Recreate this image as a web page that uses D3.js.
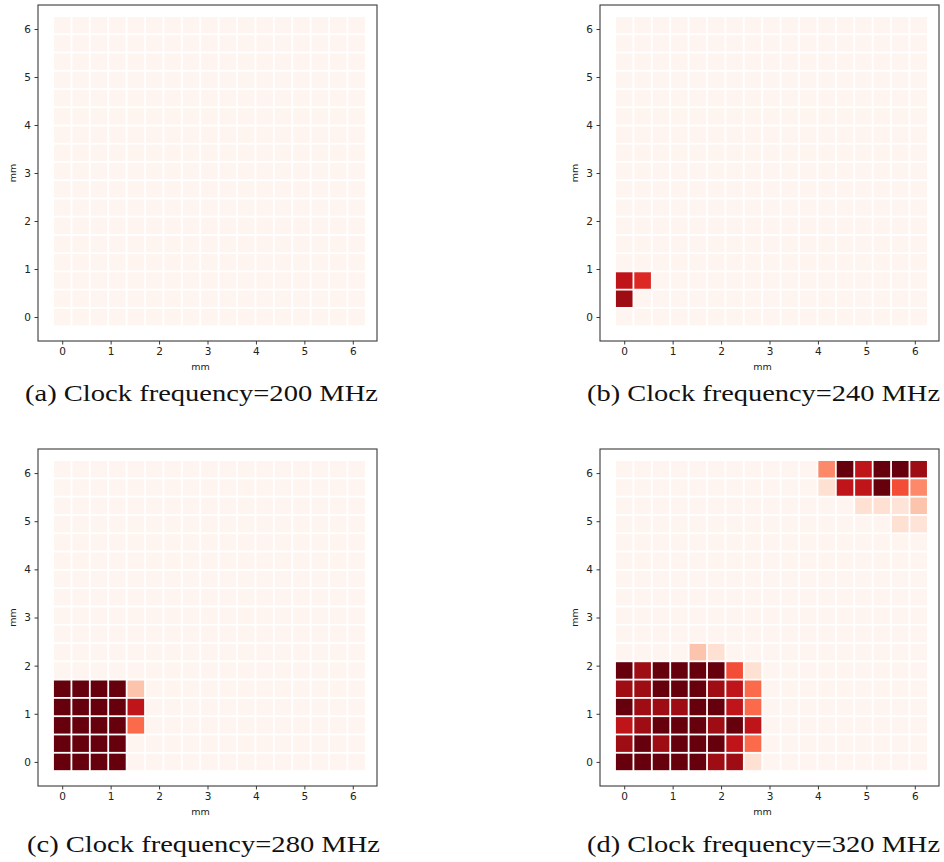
<!DOCTYPE html>
<html>
<head>
<meta charset="utf-8">
<script src="https://cdn.jsdelivr.net/npm/d3@7"></script>
<style>
  html, body { margin: 0; padding: 0; background: #fff; }
  svg { display: block; }
</style>
</head>
<body>
<svg id="fig" width="944" height="862"></svg>
<script>
// Grid cell centres along each die axis (mm)
const cellPositions = [0, 0.38, 0.76, 1.14, 1.52, 1.9, 2.28, 2.66, 3.04, 3.42, 3.8, 4.18, 4.56, 4.94, 5.32, 5.7, 6.08];
const cellPitch = 0.38;
const xTicks = [0, 1, 2, 3, 4, 5, 6];
const yTicks = [0, 1, 2, 3, 4, 5, 6];
const clockFrequencies = [200, 240, 280, 320];
const panelLetters = ["a", "b", "c", "d"];

// Normalised heat per cell; first row is the top of the die (y = 6.08 mm)
const heat200 = [
  [0,0,0,0,0,0,0,0,0,0,0,0,0,0,0,0,0],
  [0,0,0,0,0,0,0,0,0,0,0,0,0,0,0,0,0],
  [0,0,0,0,0,0,0,0,0,0,0,0,0,0,0,0,0],
  [0,0,0,0,0,0,0,0,0,0,0,0,0,0,0,0,0],
  [0,0,0,0,0,0,0,0,0,0,0,0,0,0,0,0,0],
  [0,0,0,0,0,0,0,0,0,0,0,0,0,0,0,0,0],
  [0,0,0,0,0,0,0,0,0,0,0,0,0,0,0,0,0],
  [0,0,0,0,0,0,0,0,0,0,0,0,0,0,0,0,0],
  [0,0,0,0,0,0,0,0,0,0,0,0,0,0,0,0,0],
  [0,0,0,0,0,0,0,0,0,0,0,0,0,0,0,0,0],
  [0,0,0,0,0,0,0,0,0,0,0,0,0,0,0,0,0],
  [0,0,0,0,0,0,0,0,0,0,0,0,0,0,0,0,0],
  [0,0,0,0,0,0,0,0,0,0,0,0,0,0,0,0,0],
  [0,0,0,0,0,0,0,0,0,0,0,0,0,0,0,0,0],
  [0,0,0,0,0,0,0,0,0,0,0,0,0,0,0,0,0],
  [0,0,0,0,0,0,0,0,0,0,0,0,0,0,0,0,0],
  [0,0,0,0,0,0,0,0,0,0,0,0,0,0,0,0,0]
];
const heat240 = [
  [0,0,0,0,0,0,0,0,0,0,0,0,0,0,0,0,0],
  [0,0,0,0,0,0,0,0,0,0,0,0,0,0,0,0,0],
  [0,0,0,0,0,0,0,0,0,0,0,0,0,0,0,0,0],
  [0,0,0,0,0,0,0,0,0,0,0,0,0,0,0,0,0],
  [0,0,0,0,0,0,0,0,0,0,0,0,0,0,0,0,0],
  [0,0,0,0,0,0,0,0,0,0,0,0,0,0,0,0,0],
  [0,0,0,0,0,0,0,0,0,0,0,0,0,0,0,0,0],
  [0,0,0,0,0,0,0,0,0,0,0,0,0,0,0,0,0],
  [0,0,0,0,0,0,0,0,0,0,0,0,0,0,0,0,0],
  [0,0,0,0,0,0,0,0,0,0,0,0,0,0,0,0,0],
  [0,0,0,0,0,0,0,0,0,0,0,0,0,0,0,0,0],
  [0,0,0,0,0,0,0,0,0,0,0,0,0,0,0,0,0],
  [0,0,0,0,0,0,0,0,0,0,0,0,0,0,0,0,0],
  [0,0,0,0,0,0,0,0,0,0,0,0,0,0,0,0,0],
  [0.79,0.69,0,0,0,0,0,0,0,0,0,0,0,0,0,0,0],
  [0.89,0,0,0,0,0,0,0,0,0,0,0,0,0,0,0,0],
  [0,0,0,0,0,0,0,0,0,0,0,0,0,0,0,0,0]
];
const heat280 = [
  [0,0,0,0,0,0,0,0,0,0,0,0,0,0,0,0,0],
  [0,0,0,0,0,0,0,0,0,0,0,0,0,0,0,0,0],
  [0,0,0,0,0,0,0,0,0,0,0,0,0,0,0,0,0],
  [0,0,0,0,0,0,0,0,0,0,0,0,0,0,0,0,0],
  [0,0,0,0,0,0,0,0,0,0,0,0,0,0,0,0,0],
  [0,0,0,0,0,0,0,0,0,0,0,0,0,0,0,0,0],
  [0,0,0,0,0,0,0,0,0,0,0,0,0,0,0,0,0],
  [0,0,0,0,0,0,0,0,0,0,0,0,0,0,0,0,0],
  [0,0,0,0,0,0,0,0,0,0,0,0,0,0,0,0,0],
  [0,0,0,0,0,0,0,0,0,0,0,0,0,0,0,0,0],
  [0,0,0,0,0,0,0,0,0,0,0,0,0,0,0,0,0],
  [0,0,0,0,0,0,0,0,0,0,0,0,0,0,0,0,0],
  [1,1,1,1,0.22,0,0,0,0,0,0,0,0,0,0,0,0],
  [1,1,1,1,0.79,0,0,0,0,0,0,0,0,0,0,0,0],
  [1,1,1,1,0.5,0,0,0,0,0,0,0,0,0,0,0,0],
  [1,1,1,1,0,0,0,0,0,0,0,0,0,0,0,0,0],
  [1,1,1,1,0,0,0,0,0,0,0,0,0,0,0,0,0]
];
const heat320 = [
  [0,0,0,0,0,0,0,0,0,0,0,0.4,1,0.79,1,1,0.89],
  [0,0,0,0,0,0,0,0,0,0,0,0.12,0.79,0.79,1,0.58,0.4],
  [0,0,0,0,0,0,0,0,0,0,0,0,0,0.12,0.12,0.1,0.22],
  [0,0,0,0,0,0,0,0,0,0,0,0,0,0,0,0.12,0.1],
  [0,0,0,0,0,0,0,0,0,0,0,0,0,0,0,0,0],
  [0,0,0,0,0,0,0,0,0,0,0,0,0,0,0,0,0],
  [0,0,0,0,0,0,0,0,0,0,0,0,0,0,0,0,0],
  [0,0,0,0,0,0,0,0,0,0,0,0,0,0,0,0,0],
  [0,0,0,0,0,0,0,0,0,0,0,0,0,0,0,0,0],
  [0,0,0,0,0,0,0,0,0,0,0,0,0,0,0,0,0],
  [0,0,0,0,0.22,0.12,0,0,0,0,0,0,0,0,0,0,0],
  [1,0.89,1,1,1,1,0.58,0.12,0,0,0,0,0,0,0,0,0],
  [0.89,0.89,1,1,1,0.89,0.79,0.5,0,0,0,0,0,0,0,0,0],
  [1,0.89,0.89,0.89,1,1,0.79,0.5,0,0,0,0,0,0,0,0,0],
  [0.79,0.89,1,1,1,0.89,1,0.79,0,0,0,0,0,0,0,0,0],
  [0.89,1,0.89,1,1,1,0.79,0.5,0,0,0,0,0,0,0,0,0],
  [1,1,1,1,1,0.89,0.89,0.12,0,0,0,0,0,0,0,0,0]
];
const heatMaps = [heat200, heat240, heat280, heat320];

// Sequential red colour ramp (ColorBrewer Reds, 9 classes)
const redStops = ["#fff5f0","#fee0d2","#fcbba1","#fc9272","#fb6a4a","#ef3b2c","#cb181d","#a50f15","#67000d"];
const color = d3.scaleLinear()
  .domain(redStops.map((_, i) => i / (redStops.length - 1)))
  .range(redStops)
  .interpolate(d3.interpolateRgb)
  .clamp(true);

// Axes rectangles for the 2x2 layout
const panelBoxes = [
  { left: 38,  top: 5,   width: 339, height: 336 },
  { left: 600, top: 5,   width: 339, height: 336 },
  { left: 38,  top: 449, width: 339, height: 337 },
  { left: 600, top: 449, width: 339, height: 337 }
];
const captionPos = [
  { x: 25,  y: 401 },
  { x: 587, y: 401 },
  { x: 27,  y: 852 },
  { x: 587, y: 852 }
];

const svg = d3.select("#fig");
const axisColor = "#3a3a3a";
const gapPx = 1.8;

panelBoxes.forEach((box, p) => {
  const x = d3.scaleLinear().domain([-0.5, 6.5]).range([box.left, box.left + box.width]);
  const y = d3.scaleLinear().domain([-0.5, 6.5]).range([box.top + box.height, box.top]);
  const g = svg.append("g");

  const grid = heatMaps[p];
  const nRows = grid.length;
  const cells = [];
  grid.forEach((row, k) => {
    row.forEach((v, c) => {
      cells.push({ cx: cellPositions[c], cy: cellPositions[nRows - 1 - k], v });
    });
  });

  const cw = x(cellPitch) - x(0);
  const ch = y(0) - y(cellPitch);
  g.append("g").selectAll("rect")
    .data(cells)
    .join("rect")
    .attr("x", d => x(d.cx - cellPitch / 2) + gapPx / 2)
    .attr("y", d => y(d.cy + cellPitch / 2) + gapPx / 2)
    .attr("width", cw - gapPx)
    .attr("height", ch - gapPx)
    .attr("fill", d => color(d.v));

  // frame
  g.append("rect")
    .attr("x", box.left).attr("y", box.top)
    .attr("width", box.width).attr("height", box.height)
    .attr("fill", "none").attr("stroke", axisColor).attr("stroke-width", 1.1);

  const xAxis = g.append("g")
    .attr("transform", `translate(0,${box.top + box.height})`)
    .call(d3.axisBottom(x).tickValues(xTicks).tickSize(3.5).tickPadding(3.5).tickFormat(d3.format("d")));
  const yAxis = g.append("g")
    .attr("transform", `translate(${box.left},0)`)
    .call(d3.axisLeft(y).tickValues(yTicks).tickSize(3.5).tickPadding(3.5).tickFormat(d3.format("d")));
  [xAxis, yAxis].forEach(a => {
    a.select(".domain").remove();
    a.selectAll(".tick line").attr("stroke", axisColor).attr("stroke-width", 1);
    a.selectAll(".tick text")
      .attr("fill", "#222")
      .style("font-family", "'DejaVu Sans', sans-serif")
      .style("font-size", "10.5px");
  });

  g.append("text")
    .attr("x", box.left + box.width / 2 - 7)
    .attr("y", box.top + box.height + 29)
    .attr("text-anchor", "middle")
    .attr("fill", "#222")
    .style("font-family", "'DejaVu Sans', sans-serif")
    .style("font-size", "9.5px")
    .text("mm");

  g.append("text")
    .attr("transform", `translate(${box.left - 22},${y(3)}) rotate(-90)`)
    .attr("text-anchor", "middle")
    .attr("fill", "#222")
    .style("font-family", "'DejaVu Sans', sans-serif")
    .style("font-size", "9.5px")
    .text("mm");

  svg.append("text")
    .attr("x", captionPos[p].x)
    .attr("y", captionPos[p].y)
    .attr("fill", "#111")
    .attr("textLength", 353)
    .attr("lengthAdjust", "spacingAndGlyphs")
    .style("font-family", "'Liberation Serif', 'DejaVu Serif', serif")
    .style("font-size", "23.5px")
    .text(`(${panelLetters[p]}) Clock frequency=${clockFrequencies[p]} MHz`);
});
</script>
</body>
</html>
